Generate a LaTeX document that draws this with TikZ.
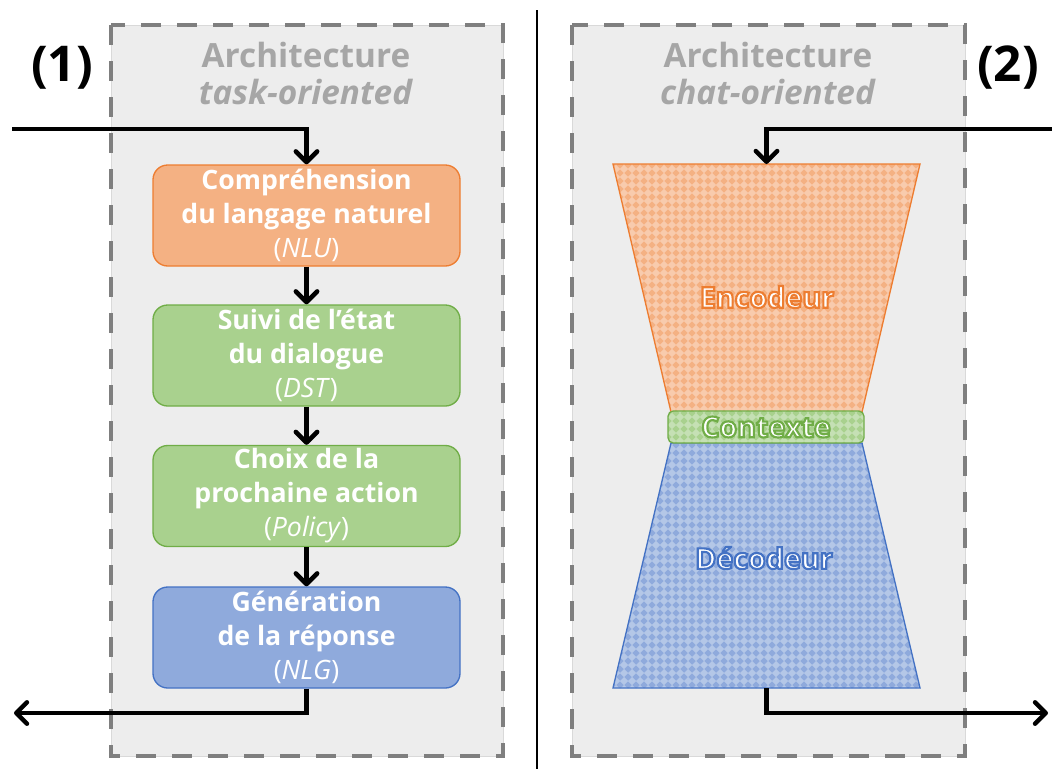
\documentclass[tikz,border=0pt]{standalone}
\usepackage{fontspec}
\setmainfont{Open Sans}
\usetikzlibrary{arrows.meta,patterns}
\definecolor{boxgray}{HTML}{EDEDED}
\definecolor{dashgray}{HTML}{7F7F7F}
\definecolor{titlegray}{HTML}{A6A6A6}
\definecolor{orfill}{HTML}{F4B183}
\definecolor{ordraw}{HTML}{ED7D31}
\definecolor{orlight}{HTML}{F8CBAD}
\definecolor{grfill}{HTML}{A9D18E}
\definecolor{grdraw}{HTML}{70AD47}
\definecolor{grlight}{HTML}{C5E0B4}
\definecolor{blfill}{HTML}{8FAADC}
\definecolor{bldraw}{HTML}{4472C4}
\definecolor{bllight}{HTML}{B4C7E7}
\newcommand\outlinetext[2]{\special{pdf:literal direct q 2 Tr 1.6 w #1 RG}#2\special{pdf:literal direct Q}}
\pgfdeclarepatternformonly{diam}{\pgfqpoint{-0.1pt}{-0.1pt}}{\pgfqpoint{6.1pt}{6.1pt}}{\pgfqpoint{6pt}{6pt}}{%
  \pgfpathmoveto{\pgfqpoint{3pt}{0.2pt}}%
  \pgfpathlineto{\pgfqpoint{5.8pt}{3pt}}%
  \pgfpathlineto{\pgfqpoint{3pt}{5.8pt}}%
  \pgfpathlineto{\pgfqpoint{0.2pt}{3pt}}%
  \pgfpathclose\pgfusepath{fill}}
\tikzset{
  frame/.style={fill=boxgray, draw=black!15, line width=0.5pt},
  dashframe/.style={draw=dashgray, line width=3pt, dash pattern=on 15pt off 12pt},
  module/.style={rounded corners=11pt, minimum width=230.25pt, minimum height=75.75pt,
    line width=1pt, text=white, font=\bfseries\fontsize{20}{25.5}\selectfont,
    align=center, inner sep=0pt},
  flow/.style={line width=3.4pt, -{Straight Barb[length=8pt,width=16pt,round]}},
  title/.style={text=titlegray, font=\bfseries\fontsize{25}{27}\selectfont, anchor=base},
  label/.style={font=\bfseries\fontsize{37}{40}\selectfont},
  stage/.style={text=white, font=\bfseries\fontsize{21.5}{26}\selectfont},
}
\begin{document}
\begin{tikzpicture}[x=0.75pt,y=-0.75pt]
\useasboundingbox (0,0) rectangle (1052,769);
% frames
\draw[frame] (111,25) rectangle (503,756);
\draw[dashframe] (111,25) rectangle (503,756);
\draw[frame] (572,25) rectangle (965,756);
\draw[dashframe] (572,25) rectangle (965,756);
\draw[line width=1.1pt] (537,10) -- (537,769);
% labels and titles
\node[label] (lab1) at (62,68) {(1)};
\node[label] (lab2) at (1008,68) {(2)};
\node[title] (t1a) at (306,67) {Architecture};
\node[title] (t1b) at (306,104) {\textit{task-oriented}};
\node[title] (t2a) at (768,67) {Architecture};
\node[title] (t2b) at (768,104) {\textit{chat-oriented}};
% task-oriented modules
\node[module, fill=orfill, draw=ordraw] (nlu) at (306.5,215.5) {Compréhension\\du langage naturel\\{\mdseries(\textit{NLU})}};
\node[module, fill=grfill, draw=grdraw] (dst) at (306.5,355.5) {Suivi de l’état\\du dialogue\\{\mdseries(\textit{DST})}};
\node[module, fill=grfill, draw=grdraw] (pol) at (306.5,496) {Choix de la\\prochaine action\\{\mdseries(\textit{Policy})}};
\node[module, fill=blfill, draw=bldraw] (nlg) at (306.5,637.5) {Génération\\de la réponse\\{\mdseries(\textit{NLG})}};
\coordinate (inL) at (12,129);
\coordinate (outL) at (14,713);
\draw[flow] (inL) -| (nlu.north);
\draw[flow] (nlu) -- (dst);
\draw[flow] (dst) -- (pol);
\draw[flow] (pol) -- (nlg);
\draw[flow] (nlg.south) |- (outL);
% chat-oriented
\draw[ordraw, line width=1pt, preaction={fill=orlight}, preaction={pattern=diam, pattern color=orfill}]
  (613,164) -- (920,164) -- (862,412) -- (671,412) -- cycle;
\draw[bldraw, line width=1pt, preaction={fill=bllight}, preaction={pattern=diam, pattern color=blfill}]
  (671,443) -- (862,443) -- (920,688) -- (613,688) -- cycle;
\node[draw=grdraw, line width=1pt, rounded corners=4pt, minimum width=147pt, minimum height=24pt,
  preaction={fill=grlight}, preaction={pattern=diam, pattern color=grfill}, stage] (ctx) at (766,427) {\outlinetext{0.439 0.678 0.278}{Contexte}};
\node[stage] (enc) at (767,297) {\outlinetext{0.929 0.490 0.192}{Encodeur}};
\node[stage] (dec) at (764,558) {\outlinetext{0.267 0.447 0.769}{Décodeur}};
\coordinate (encT) at (766.5,164);
\coordinate (decB) at (766.5,688);
\coordinate (inR) at (1052,129);
\coordinate (outR) at (1048,713);
\draw[flow] (inR) -| (encT);
\draw[flow] (decB) |- (outR);
\end{tikzpicture}
\end{document}
